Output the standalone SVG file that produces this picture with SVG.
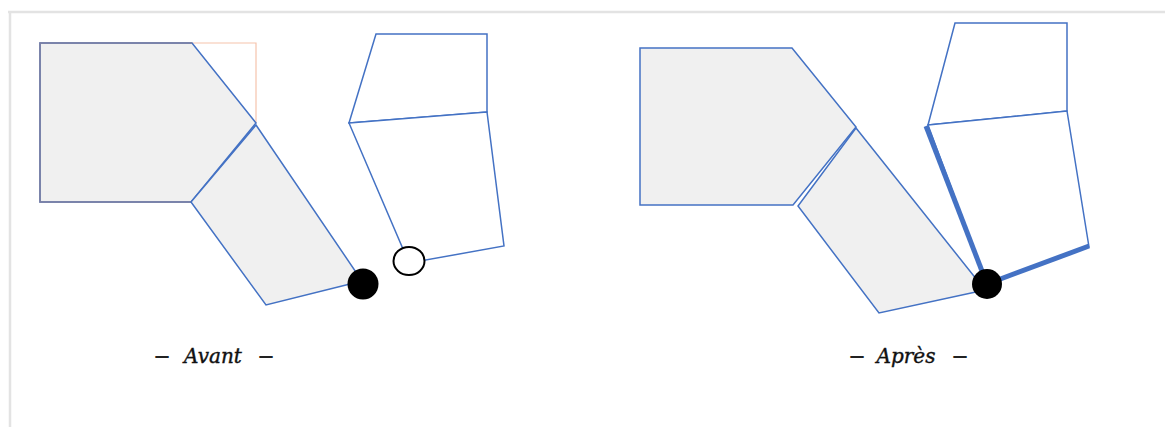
<svg xmlns="http://www.w3.org/2000/svg" width="1165" height="427" viewBox="0 0 1165 427">
<style>
.bg{fill:#ffffff}
.frame{stroke:#e3e3e3;stroke-width:2.5;fill:none}
.shape{fill:#f0f0f0;stroke:#4472c4;stroke-width:1.5;stroke-linejoin:miter}
.piece{fill:#ffffff;stroke:#4472c4;stroke-width:1.5}
.thick{stroke:#4472c4;stroke-width:5;fill:none;stroke-linecap:butt}
.gray{stroke:#7f7f9f;stroke-width:1.5;fill:none}
.peach{stroke:#f6c4ac;stroke-width:1.2;fill:none}
.label{font-family:"DejaVu Serif","Liberation Serif",serif;font-style:italic;font-size:20px;fill:#111111;stroke:#111111;stroke-width:0.4}
.dash{font-family:"DejaVu Sans","Liberation Sans",sans-serif;font-weight:bold;font-size:15px;fill:#222222}
</style>
<rect class="bg" x="0" y="0" width="1165" height="427"/>
<g id="frame">
<line class="frame" x1="8" y1="12" x2="1165" y2="12"/>
<line class="frame" x1="10" y1="12" x2="10" y2="427"/>
</g>
<g id="avant">
<g id="avant-block">
<polyline class="peach" points="192,43 256,43 256,123"/>
<polygon class="shape" points="40,43 192,43 256,123 191,202 40,202"/>
<polyline class="gray" points="192,43 40,43 40,202 191,202"/>
</g>
<g id="avant-arm">
<polygon class="shape" points="256,125 362,281 266,305 191,202"/>
</g>
<g id="avant-piece">
<polygon class="piece" points="376,34 487,34 487,112 349,123"/>
<polygon class="piece" points="349,123 487,112 504,246 409,263"/>
</g>
<g id="avant-joint-fixed">
<circle cx="363" cy="284" r="15.5" fill="#000000"/>
</g>
<g id="avant-joint-free">
<ellipse cx="409" cy="261" rx="15.5" ry="14" fill="#ffffff" stroke="#000000" stroke-width="2"/>
</g>
<g id="avant-label">
<text class="dash" x="162" y="361" text-anchor="middle">—</text>
<text class="label" x="213" y="363" text-anchor="middle">Avant</text>
<text class="dash" x="266" y="361" text-anchor="middle">—</text>
</g>
</g>
<g id="apres">
<g id="apres-block">
<polygon class="shape" points="640,48 792,48 856,127 793,205 640,205"/>
</g>
<g id="apres-arm">
<polygon class="shape" points="856,128 985,290 879,313 798,206"/>
</g>
<g id="apres-piece">
<polygon class="piece" points="955,23 1067,23 1067,111 928,125"/>
<polygon class="piece" points="928,125 1067,111 1089,247 987,284"/>
<g id="apres-connectors">
<line class="thick" x1="926" y1="126" x2="987" y2="284"/>
<line class="thick" x1="987" y1="284" x2="1089" y2="246"/>
</g>
</g>
<g id="apres-joint">
<circle cx="987" cy="284" r="15" fill="#000000"/>
</g>
<g id="apres-label">
<text class="dash" x="857" y="361" text-anchor="middle">—</text>
<text class="label" x="906" y="363" text-anchor="middle">Après</text>
<text class="dash" x="960" y="361" text-anchor="middle">—</text>
</g>
</g>
</svg>
